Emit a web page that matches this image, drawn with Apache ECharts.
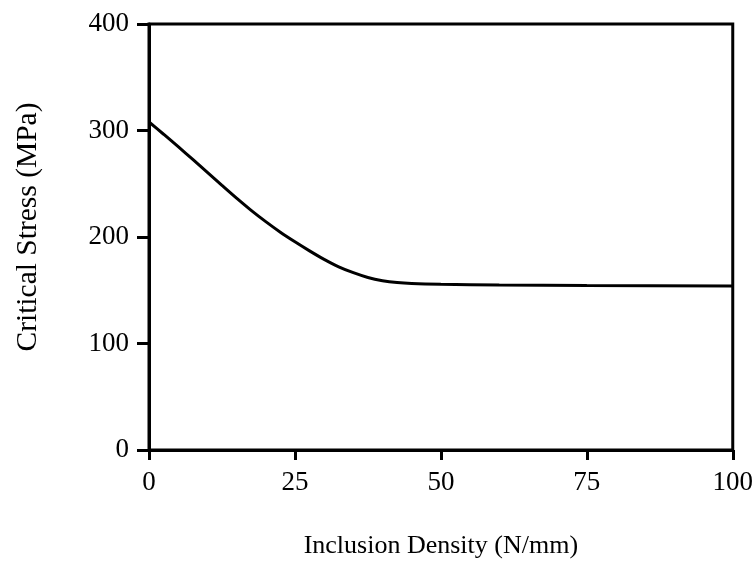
<!DOCTYPE html>
<html>
<head>
<meta charset="utf-8">
<script src="https://cdn.jsdelivr.net/npm/echarts@6/dist/echarts.min.js"></script>
<style>
  html, body { margin: 0; padding: 0; background: #fff; }
  #chart { width: 756px; height: 564px; }
</style>
</head>
<body>
<div id="chart"></div>
<script>
// inclusion density (N/mm) and critical stress (MPa)
const density = [0, 2.5, 5, 7.5, 10, 12.5, 15, 17.5, 20, 22.5, 25, 27.5, 30, 32.5, 35, 37.5, 40, 42.5, 45, 50, 60, 75, 100];
const stress = [308, 296.5, 284.8, 272.8, 260.6, 248.4, 236.4, 225, 214.4, 204.5, 195.5, 187, 179, 172, 166.5, 162, 159, 157.2, 156.3, 155.6, 155, 154.5, 154];
const xTicks = [0, 25, 50, 75, 100];
const yTicks = [0, 100, 200, 300, 400];

const chart = echarts.init(document.getElementById('chart'));
const font = 'Liberation Serif';

chart.setOption({
  animation: false,
  grid: {
    left: 149, right: 23, top: 24, bottom: 114,
    show: true, borderColor: '#000', borderWidth: 3
  },
  xAxis: {
    type: 'value',
    min: xTicks[0], max: xTicks[xTicks.length - 1], interval: 25,
    name: 'Inclusion Density (N/mm)',
    nameLocation: 'middle', nameGap: 83,
    nameTextStyle: { fontFamily: font, fontSize: 26, color: '#000' },
    axisLine: { lineStyle: { color: '#000', width: 3 } },
    axisTick: { length: 10, lineStyle: { color: '#000', width: 3 } },
    axisLabel: { fontFamily: font, fontSize: 27, color: '#000', margin: 19 },
    splitLine: { show: false }
  },
  yAxis: {
    type: 'value',
    min: yTicks[0], max: yTicks[yTicks.length - 1], interval: 100,
    name: 'Critical Stress (MPa)',
    nameLocation: 'middle', nameGap: 106,
    nameTextStyle: { fontFamily: font, fontSize: 29.5, color: '#000', padding: [0, 0, 0, 20] },
    axisLine: { lineStyle: { color: '#000', width: 3 } },
    axisTick: { length: 12, lineStyle: { color: '#000', width: 3 } },
    axisLabel: { fontFamily: font, fontSize: 27, color: '#000', margin: 20 },
    splitLine: { show: false }
  },
  series: [{
    type: 'line',
    data: density.map((d, i) => [d, stress[i]]),
    smooth: 0.3,
    showSymbol: false,
    lineStyle: { color: '#000', width: 3 }
  }]
});
</script>
</body>
</html>
